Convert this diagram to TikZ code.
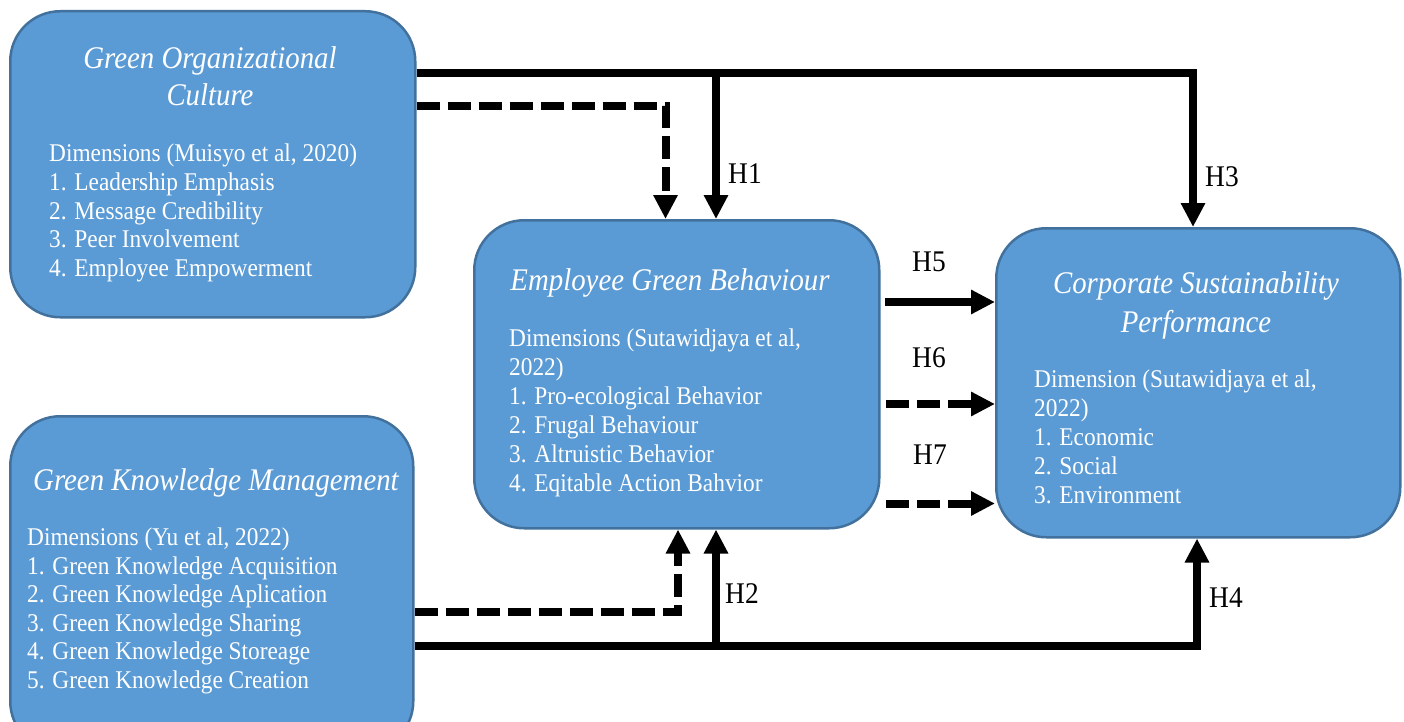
\documentclass[tikz,border=0pt]{standalone}
\usepackage{fontspec}
\setmainfont{Liberation Serif}[FakeStretch=0.915]
\usetikzlibrary{arrows.meta}
\definecolor{boxfill}{HTML}{5B9BD5}
\definecolor{boxline}{HTML}{41719C}
\begin{document}
\begin{tikzpicture}[x=1pt,y=-1pt,
  box/.style={draw=boxline, line width=2.5pt, fill=boxfill, rounded corners=50pt, anchor=north west, inner sep=0pt},
  ttl/.style={text=white, font=\fontsize{31.5}{37}\selectfont\itshape, anchor=base, inner sep=0pt},
  bodytxt/.style={text=white, font=\fontsize{25.5}{29}\selectfont, anchor=base west, inner sep=0pt},
  hlab/.style={font=\fontsize{30}{34}\selectfont, anchor=base west, inner sep=0pt},
  tip/.style={-{Triangle[length=24pt,width=23pt]}},
  sl/.style={line width=8pt, black},
  dl/.style={line width=8pt, black, dash pattern=on 23pt off 8pt},
]
\useasboundingbox (0,0) rectangle (1404,722);

% boxes
\node[box, minimum width=405pt, minimum height=306pt] (goc) at (9,10) {};
\node[box, minimum width=403pt, minimum height=335pt] (gkm) at (9,415) {};
\node[box, minimum width=405pt, minimum height=308pt] (egb) at (473,219) {};
\node[box, minimum width=404pt, minimum height=309pt] (csp) at (995,227) {};

% titles
\node[ttl] (goct1) at (210,68.5) {Green Organizational};
\node[ttl] (goct2) at (210,105.5) {Culture};
\node[ttl] (gkmt1) at (216,490) {Green Knowledge Management};
\node[ttl] (egbt1) at (670,290) {Employee Green Behaviour};
\node[ttl] (cspt1) at (1196,293) {Corporate Sustainability};
\node[ttl] (cspt2) at (1196,332) {Performance};

% body texts
\foreach \s [count=\i from 0] in {{Dimensions (Muisyo et al, 2020)},{1. Leadership Emphasis},{2. Message Credibility},{3. Peer Involvement},{4. Employee Empowerment}}
  \node[bodytxt] (gocb\i) at (49,{162+28.5*\i}) {\s};
\foreach \s [count=\i from 0] in {{Dimensions (Yu et al, 2022)},{1. Green Knowledge Acquisition},{2. Green Knowledge Aplication},{3. Green Knowledge Sharing},{4. Green Knowledge Storeage},{5. Green Knowledge Creation}}
  \node[bodytxt] (gkmb\i) at (27,{545.5+28.5*\i}) {\s};
\foreach \s [count=\i from 0] in {{Dimensions (Sutawidjaya et al,},{2022)},{1. Pro-ecological Behavior},{2. Frugal Behaviour},{3. Altruistic Behavior},{4. Eqitable Action Bahvior}}
  \node[bodytxt] (egbb\i) at (509,{346.5+29*\i}) {\s};
\foreach \s [count=\i from 0] in {{Dimension (Sutawidjaya et al,},{2022)},{1. Economic},{2. Social},{3. Environment}}
  \node[bodytxt] (cspb\i) at (1034,{387+29*\i}) {\s};

% coordinates for connectors
\coordinate (ct) at (1193,73.5);
\coordinate (cj) at (716,73.5);
\coordinate (cd) at (665.5,106.5);
\coordinate (cb) at (1197,645.5);
\coordinate (cbj) at (716,645.5);
\coordinate (cbd) at (678,612);
\coordinate (h5) at (885,302);
\coordinate (h6) at (886,404);
\coordinate (h7) at (886,503.5);

% top connectors
\draw[sl,tip] (goc.east |- ct) -| (csp.north -| ct);
\draw[sl,tip] (cj) -- (egb.north -| cj);
\draw[dl,tip] (goc.east |- cd) -| (egb.north -| cd);

% bottom connectors
\draw[sl,tip] (gkm.east |- cb) -| (csp.south -| cb);
\draw[sl,tip] (cbj) -- (egb.south -| cbj);
\draw[dl,tip] (gkm.east |- cbd) -| (egb.south -| cbd);

% middle connectors
\draw[sl,tip] (h5) -- (h5 -| csp.west);
\draw[dl,tip] (h6) -- (h6 -| csp.west);
\draw[dl,tip] (h7) -- (h7 -| csp.west);

% labels
\node[hlab] (lh1) at (728,183) {H1};
\node[hlab] (lh2) at (725,603) {H2};
\node[hlab] (lh3) at (1205,186) {H3};
\node[hlab] (lh4) at (1209,607) {H4};
\node[hlab] (lh5) at (912,271) {H5};
\node[hlab] (lh6) at (912,367) {H6};
\node[hlab] (lh7) at (913,464) {H7};
\end{tikzpicture}
\end{document}
